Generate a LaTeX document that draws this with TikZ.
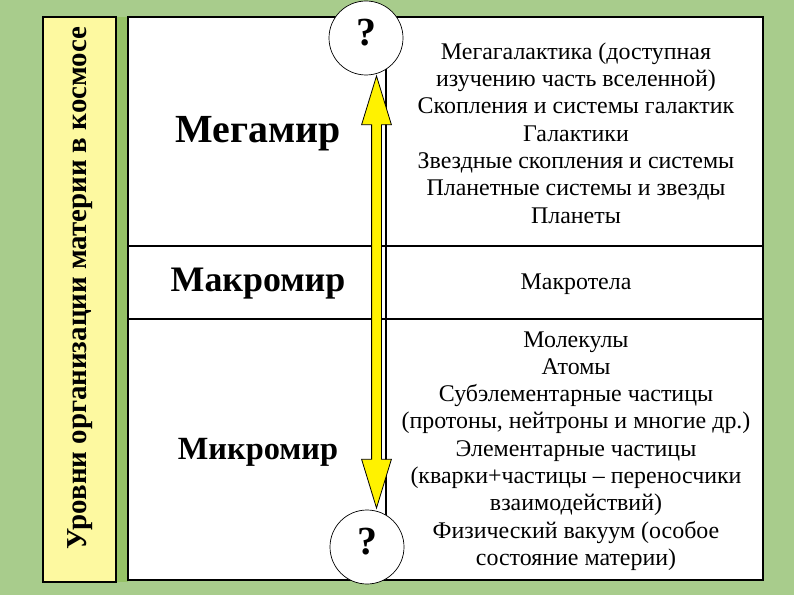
\documentclass[tikz,border=0pt]{standalone}
\usepackage{fontspec}
\setmainfont{Liberation Serif}
\usepackage{xcolor}
\usepackage{tikz}
\usetikzlibrary{arrows.meta,positioning,shapes.arrows,calc}

\definecolor{bggreen}{RGB}{168,204,140}
\definecolor{stripgreen}{RGB}{150,194,102}
\definecolor{paleyellow}{RGB}{253,249,160}

\begin{document}
\begin{tikzpicture}[x=1bp, y=-1bp,
    level/.style={font=\bfseries\fontsize{36}{40}\selectfont, inner sep=0},
    listtext/.style={align=center, inner sep=0, font=\fontsize{24}{27.4}\selectfont},
    qmark/.style={circle, draw, fill=white, line width=0.7bp, minimum size=74bp, inner sep=0, text depth=12bp, font=\bfseries\fontsize{40}{42}\selectfont},
    rule/.style={line width=2bp},
    axis/.style={double arrow, draw, fill=yellow, line width=0.8bp, rotate=90,
        minimum height=432bp, inner xsep=0, inner ysep=4.5bp,
        double arrow head extend=10bp, double arrow tip angle=34}
]
    % background
    \fill[bggreen] (0,0) rectangle (794,595);
    \fill[stripgreen] (116,17) rectangle (128,582);
    \useasboundingbox (0,0) rectangle (794,595);

    % side title
    \draw[rule, fill=paleyellow] (43,17) rectangle (116,582);
    \node[rotate=90, inner sep=0, font=\bfseries\fontsize{29}{32}\selectfont] (title) at (80,288)
        {Уровни организации материи в космосе};

    % table
    \draw[rule, fill=white] (128,17) rectangle (763,580);
    \draw[rule] (128,246) -- (763,246);
    \draw[rule] (128,319) -- (763,319);
    \draw[rule] (386,17) -- (386,580);

    % levels
    \node[level, font=\bfseries\fontsize{40}{44}\selectfont] (mega) at (258,134) {Мегамир};
    \node[level] (macro) at (258,284) {Макромир};
    \node[level, font=\bfseries\fontsize{32.5}{36}\selectfont] (micro) at (258,452) {Микромир};

    \node[listtext] (megalist) at (576,133) {Мегагалактика (доступная\\изучению часть вселенной)\\Скопления и системы галактик\\Галактики\\Звездные скопления и системы\\Планетные системы и звезды\\Планеты};
    \node[listtext] (macrolist) at (576,284) {Макротела};
    \node[listtext] (microlist) at (576,451) {Молекулы\\Атомы\\Субэлементарные частицы\\(протоны, нейтроны и многие др.)\\Элементарные частицы\\(кварки+частицы – переносчики\\взаимодействий)\\Физический вакуум (особое\\состояние материи)};

    % scale arrow
    \node[axis] (scale) at (376.5,292) {};
    \node[qmark] (qtop) at (366,38) {?};
    \node[qmark] (qbot) at (367,547) {?};
\end{tikzpicture}
\end{document}
